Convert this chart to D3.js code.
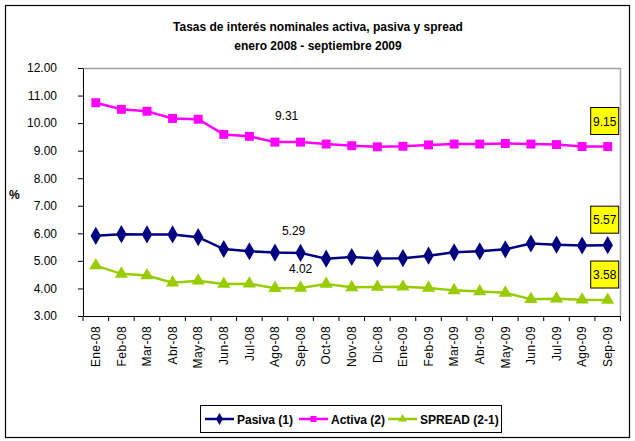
<!DOCTYPE html>
<html>
<head>
<meta charset="utf-8">
<script src="https://cdn.jsdelivr.net/npm/d3@7"></script>
<style>
  body { margin: 0; background: #fff; }
  text { font-family: "Liberation Sans", Arial, sans-serif; }
</style>
</head>
<body>
<div id="chart"></div>
<script>
// Tasas de interés nominales: activa, pasiva y spread
let months = ["Ene-08","Feb-08","Mar-08","Abr-08","May-08","Jun-08","Jul-08","Ago-08","Sep-08","Oct-08","Nov-08","Dic-08",
              "Ene-09","Feb-09","Mar-09","Abr-09","May-09","Jun-09","Jul-09","Ago-09","Sep-09"];
let pasiva = [5.91,5.97,5.96,5.96,5.86,5.43,5.35,5.30,5.29,5.08,5.14,5.09,5.10,5.19,5.31,5.35,5.42,5.63,5.59,5.56,5.57];
let activa = [10.74,10.50,10.43,10.17,10.14,9.59,9.52,9.31,9.31,9.24,9.18,9.14,9.16,9.21,9.24,9.24,9.26,9.24,9.22,9.15,9.15];
let spread = [4.83,4.53,4.47,4.21,4.28,4.16,4.17,4.01,4.02,4.16,4.04,4.05,4.06,4.02,3.93,3.89,3.84,3.61,3.63,3.59,3.58];
let yTicks = [3,4,5,6,7,8,9,10,11,12];

let svgWidth = 635, svgHeight = 441;
let margin = {top: 68, right: 15, bottom: 125, left: 83};
let chartWidth = 620.5 - margin.left;
let chartHeight = 316 - margin.top;

let svg = d3.select("#chart").append("svg")
    .attr("width", svgWidth)
    .attr("height", svgHeight);

// outer frame
svg.append("rect")
    .attr("x", 5.5).attr("y", 5.5)
    .attr("width", 624).attr("height", 432)
    .attr("fill", "none").attr("stroke", "#000").attr("stroke-width", 1.2);

// title
svg.append("text").attr("x", 318).attr("y", 31)
    .attr("text-anchor", "middle").style("font-size", "12px").style("font-weight", "bold")
    .text("Tasas de interés nominales activa, pasiva y spread");
svg.append("text").attr("x", 318).attr("y", 50)
    .attr("text-anchor", "middle").style("font-size", "12px").style("font-weight", "bold")
    .text("enero 2008 - septiembre 2009");

let g = svg.append("g").attr("transform", `translate(${margin.left},${margin.top})`);

let x = d3.scaleBand().domain(months).range([0, chartWidth]);
let y = d3.scaleLinear().domain([3, 12]).range([chartHeight, 0]);
let cx = d => x(d) + x.bandwidth() / 2;

// plot area border (gray top and right)
g.append("path")
    .attr("d", `M0,0.5H${chartWidth}V${chartHeight}`)
    .attr("fill", "none").attr("stroke", "#a0a0a0").attr("stroke-width", 1.5);

// y axis
let yAxis = g.append("g")
    .call(d3.axisLeft(y).tickValues(yTicks).tickFormat(d3.format(".2f")).tickSize(5).tickSizeOuter(0));
yAxis.select(".domain").attr("stroke", "#000");
yAxis.selectAll("text").style("font-size", "12px").attr("fill", "#000").attr("dx", "-18");

// x axis
let xAxis = g.append("g").attr("transform", `translate(0,${chartHeight})`)
    .call(d3.axisBottom(x).tickSize(0).tickSizeOuter(0));
xAxis.select(".domain").attr("stroke", "#000");
xAxis.selectAll("text")
    .style("font-size", "12px").style("letter-spacing", "0.4px").attr("fill", "#000")
    .attr("text-anchor", "end")
    .attr("transform", "rotate(-90)")
    .attr("x", -10).attr("y", 0).attr("dy", "0.35em");
// tick marks at category boundaries
xAxis.selectAll(".bnd").data(months.concat(["end"])).enter().append("line")
    .attr("x1", (d, i) => i * x.step()).attr("x2", (d, i) => i * x.step())
    .attr("y1", 0).attr("y2", 5).attr("stroke", "#000");

// "%" label
svg.append("text").attr("x", 9).attr("y", 199)
    .style("font-size", "12px").style("font-weight", "bold").text("%");

let series = [
    {name: "Pasiva (1)", values: pasiva, color: "#000080", shape: d3.symbolDiamond, size: 95},
    {name: "Activa (2)", values: activa, color: "#ff00ff", shape: d3.symbolSquare, size: 80},
    {name: "SPREAD (2-1)", values: spread, color: "#99cc00", shape: d3.symbolTriangle, size: 75}
];

let line = d3.line().x((d, i) => cx(months[i])).y(d => y(d));

series.forEach(s => {
    g.append("path").datum(s.values)
        .attr("d", line).attr("fill", "none")
        .attr("stroke", s.color).attr("stroke-width", 2.5);
    g.selectAll(null).data(s.values).enter().append("path")
        .attr("d", d3.symbol().type(s.shape).size(s.size))
        .attr("transform", (d, i) => `translate(${cx(months[i])},${y(d)})`)
        .attr("fill", s.color);
});

// data labels for Sep-08
let sepIdx = 8;
[[activa, -14, -22], [pasiva, -7, -18], [spread, 0, -15]].forEach(([vals, dx, dy]) => {
    g.append("text")
        .attr("x", cx(months[sepIdx]) + dx).attr("y", y(vals[sepIdx]) + dy)
        .attr("text-anchor", "middle").style("font-size", "12px")
        .text(vals[sepIdx].toFixed(2));
});

// yellow boxes for last values
let last = months.length - 1;
[activa, pasiva, spread].forEach(vals => {
    let bx = cx(months[last]) - 17, by = y(vals[last]) - 39;
    g.append("rect").attr("x", bx).attr("y", by).attr("width", 28).attr("height", 27)
        .attr("fill", "#ffff00").attr("stroke", "#000").attr("stroke-width", 1);
    g.append("text").attr("x", bx + 14).attr("y", by + 18)
        .attr("text-anchor", "middle").style("font-size", "12px")
        .text(vals[last].toFixed(2));
});

// legend
let lg = svg.append("g").attr("transform", "translate(200,405)");
lg.append("rect").attr("x", 0.5).attr("y", 0.5).attr("width", 301).attr("height", 27)
    .attr("fill", "#fff").attr("stroke", "#000").attr("stroke-width", 1);
let lx = [5, 99, 188];
series.forEach((s, i) => {
    let item = lg.append("g").attr("transform", `translate(${lx[i]},14)`);
    item.append("line").attr("x1", 0).attr("x2", 29).attr("stroke", s.color).attr("stroke-width", 2.5);
    item.append("path").attr("d", d3.symbol().type(s.shape).size(s.size * 0.45))
        .attr("transform", "translate(14.5,0)").attr("fill", s.color);
    item.append("text").attr("x", 32).attr("y", 4.5)
        .style("font-size", "12px").style("font-weight", "bold").text(s.name);
});
</script>
</body>
</html>
